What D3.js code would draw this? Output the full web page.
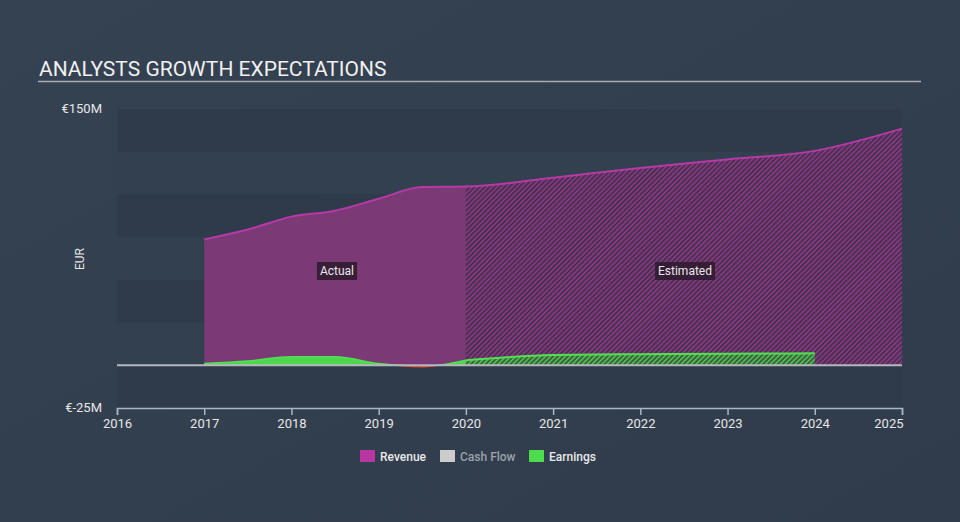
<!DOCTYPE html>
<html>
<head>
<meta charset="utf-8">
<script src="https://cdn.jsdelivr.net/npm/d3@7"></script>
<style>
    body { margin: 0; background: #333f4f; }
    svg { display: block; font-family: Roboto, "Open Sans", sans-serif; }
</style>
</head>
<body>
<svg id="chart" width="960" height="522"></svg>
<script>
// Chart data (EUR millions, x in fractional years)
let actualYears = [2017.0, 2017.5, 2018.0, 2018.5, 2019.0, 2019.5, 2020.0]
let revenueActual = [73.7, 79.5, 87.0, 90.5, 97.5, 104.3, 104.6]
let earningsActual = [1.0, 2.5, 5.0, 5.0, 1.0, -0.8, 3.0]

let estimateYears = [2020.0, 2021.0, 2022.0, 2023.0, 2024.0, 2025.0]
let revenueEstimate = [104.6, 109.8, 115.5, 120.5, 125.5, 138.5]
let earningsEstimateYears = [2020.0, 2021.0, 2022.0, 2023.0, 2024.0]
let earningsEstimate = [3.0, 6.0, 6.5, 6.8, 7.0]

let xTicks = [2016, 2017, 2018, 2019, 2020, 2021, 2022, 2023, 2024, 2025]
let yTickLabels = ['€150M', '€-25M']
let yBands = [150, 125, 100, 75, 50, 25, 0, -25]
let legendItems = ['Revenue', 'Cash Flow', 'Earnings']

window.addEventListener('load', () => {
    let svg = d3.select('svg#chart')

    // background
    let defs = svg.append('defs')
    let bg = defs.append('linearGradient').attr('id', 'bg')
        .attr('x1', 0).attr('y1', 0).attr('x2', 1).attr('y2', 1)
    bg.append('stop').attr('offset', '0%').attr('stop-color', '#354252')
    bg.append('stop').attr('offset', '100%').attr('stop-color', '#303c4b')
    svg.append('rect').attr('width', 960).attr('height', 522).attr('fill', 'url(#bg)')

    // hatch patterns for estimates
    function hatch(id, base, stripe) {
        let p = defs.append('pattern').attr('id', id)
            .attr('patternUnits', 'userSpaceOnUse')
            .attr('width', 3.5).attr('height', 3.5)
            .attr('patternTransform', 'rotate(45)')
        p.append('rect').attr('width', 3.5).attr('height', 3.5).attr('fill', base)
        p.append('rect').attr('width', 1.4).attr('height', 3.5).attr('fill', stripe)
    }
    hatch('hatchRev', '#48304f', '#93398b')
    hatch('hatchEarn', '#3f5d42', '#4fd14f')

    // scales
    let x = d3.scaleLinear().domain([2016, 2025]).range([117, 902])
    let y = d3.scaleLinear().domain([-25, 150]).range([408, 109])

    // title
    svg.append('text')
        .attr('x', 39).attr('y', 76)
        .attr('font-size', 21)
        .attr('fill', '#f0f0f0')
        .text('ANALYSTS GROWTH EXPECTATIONS')
    svg.append('line')
        .attr('x1', 38).attr('x2', 921).attr('y1', 81.5).attr('y2', 81.5)
        .attr('stroke', '#a6adb6').attr('stroke-width', 1.5)

    // horizontal bands
    for (let i = 0; i < yBands.length - 1; i++) {
        svg.append('rect')
            .attr('x', x(2016)).attr('width', x(2025) - x(2016))
            .attr('y', y(yBands[i])).attr('height', y(yBands[i + 1]) - y(yBands[i]))
            .attr('fill', i % 2 == 0 ? '#2f3b4a' : '#334050')
    }

    let curve = d3.curveMonotoneX
    let actRev = actualYears.map((d, i) => [d, revenueActual[i]])
    let estRev = estimateYears.map((d, i) => [d, revenueEstimate[i]])
    let actEarn = actualYears.map((d, i) => [d, earningsActual[i]])
    let estEarn = earningsEstimateYears.map((d, i) => [d, earningsEstimate[i]])

    let area = d3.area().curve(curve)
        .x(d => x(d[0])).y0(y(0)).y1(d => y(d[1]))
    let line = d3.line().curve(curve)
        .x(d => x(d[0])).y(d => y(d[1]))

    // revenue
    svg.append('path').attr('d', area(actRev)).attr('fill', '#7b3976')
    svg.append('path').attr('d', area(estRev)).attr('fill', 'url(#hatchRev)')
    svg.append('path').attr('d', line(actRev.concat(estRev.slice(1))))
        .attr('fill', 'none').attr('stroke', '#b53aa4').attr('stroke-width', 2)

    // earnings, green above zero, red below
    defs.append('clipPath').attr('id', 'above').append('rect')
        .attr('x', 0).attr('y', 0).attr('width', 960).attr('height', y(0))
    defs.append('clipPath').attr('id', 'below').append('rect')
        .attr('x', 0).attr('y', y(0)).attr('width', 960).attr('height', 100)
    svg.append('path').attr('d', area(actEarn)).attr('fill', '#4cd64c')
        .attr('clip-path', 'url(#above)')
    svg.append('path').attr('d', area(actEarn)).attr('fill', '#d9452f')
        .attr('clip-path', 'url(#below)')
    svg.append('path').attr('d', line(actEarn)).attr('fill', 'none')
        .attr('stroke', '#52e052').attr('stroke-width', 1.5).attr('clip-path', 'url(#above)')
    svg.append('path').attr('d', line(actEarn)).attr('fill', 'none')
        .attr('stroke', '#e04a35').attr('stroke-width', 1.5).attr('clip-path', 'url(#below)')
    svg.append('path').attr('d', area(estEarn)).attr('fill', 'url(#hatchEarn)')
    svg.append('path').attr('d', line(estEarn)).attr('fill', 'none')
        .attr('stroke', '#52e052').attr('stroke-width', 2)

    // zero line
    svg.append('line')
        .attr('x1', x(2016)).attr('x2', x(2025)).attr('y1', y(0)).attr('y2', y(0))
        .attr('stroke', '#b4b8bd').attr('stroke-width', 2)

    // Actual / Estimated labels
    function tag(cx, cy, label) {
        let g = svg.append('g')
        let t = g.append('text').attr('x', cx).attr('y', cy + 4)
            .attr('text-anchor', 'middle').attr('font-size', 12)
            .attr('fill', '#e8e8e8').text(label)
        let b = t.node().getBBox()
        g.insert('rect', 'text')
            .attr('x', b.x - 3).attr('y', cy - 9)
            .attr('width', b.width + 6).attr('height', 18)
            .attr('fill', '#2e1a2e').attr('opacity', 0.85)
    }
    tag(337, 271, 'Actual')
    tag(685, 271, 'Estimated')

    // x axis
    let xAxis = d3.axisBottom(x).tickValues(xTicks).tickFormat(d3.format('d'))
        .tickSize(7).tickPadding(4)
    let gx = svg.append('g').attr('transform', 'translate(0,' + y(-25) + ')').call(xAxis)
    gx.select('.domain').attr('stroke', '#a9b6c6').attr('stroke-width', 1.5)
    gx.selectAll('.tick line').attr('stroke', '#a9b6c6').attr('stroke-width', 1.5)
    gx.selectAll('.tick text').attr('fill', '#e6e6e6').attr('font-size', 13)
        .attr('font-family', 'Roboto, sans-serif')
    // last label sits flush against the end of the axis
    gx.selectAll('.tick text').filter(d => d == 2025)
        .attr('text-anchor', 'end').attr('x', 1)

    // y labels
    svg.append('text').attr('x', 102).attr('y', y(150) + 4)
        .attr('text-anchor', 'end').attr('font-size', 13).attr('fill', '#e6e6e6')
        .text(yTickLabels[0])
    svg.append('text').attr('x', 102).attr('y', y(-25) + 4)
        .attr('text-anchor', 'end').attr('font-size', 13).attr('fill', '#e6e6e6')
        .text(yTickLabels[1])
    svg.append('text')
        .attr('transform', 'translate(84,259) rotate(-90)')
        .attr('text-anchor', 'middle').attr('font-size', 12).attr('fill', '#e6e6e6')
        .text('EUR')

    // legend
    let legendColors = ['#b5379f', '#cccccc', '#4cdc4c']
    let legendX = [360, 440, 529]
    legendItems.forEach((name, i) => {
        svg.append('rect')
            .attr('x', legendX[i]).attr('y', 450)
            .attr('width', 15).attr('height', 12)
            .attr('fill', legendColors[i])
        svg.append('text')
            .attr('x', legendX[i] + 20).attr('y', 460.5)
            .attr('font-size', 12).attr('font-weight', 500)
            .attr('fill', name == 'Cash Flow' ? '#9aa2ac' : '#e8e8e8')
            .text(name)
    })
})
</script>
</body>
</html>
